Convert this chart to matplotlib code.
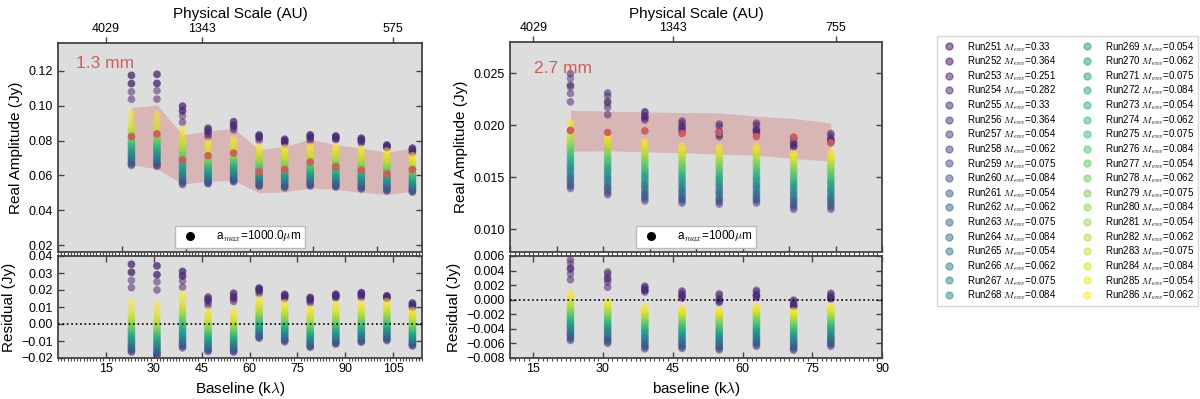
import numpy as np
import matplotlib.pyplot as plt
from matplotlib.lines import Line2D
from matplotlib.ticker import MultipleLocator

plt.rcParams['font.family'] = ['Liberation Sans', 'DejaVu Sans']
plt.rcParams['mathtext.fontset'] = 'cm'

# model runs shown in the legend
runs = list(range(251, 287))
m_env = [0.33, 0.364, 0.251, 0.282, 0.33, 0.364,
         0.054, 0.062, 0.075, 0.084, 0.054, 0.062, 0.075, 0.084,
         0.054, 0.062, 0.075, 0.084, 0.054, 0.062, 0.075, 0.084,
         0.054, 0.062, 0.075, 0.084, 0.054, 0.062, 0.075, 0.084,
         0.054, 0.062, 0.075, 0.084, 0.054, 0.062]

# ---- 1.3 mm (values in mJy) ----
base13 = [23, 31, 39, 47, 55, 63, 71, 79, 87, 95, 103, 111]
obs13 = [82.3, 83.8, 68.8, 71.3, 72.8, 62.1, 63.3, 67.6, 65.1, 62.9, 60.8, 63.3]
band13_hi = [98.9, 100.4, 83.3, 85.5, 87.0, 74.7, 76.6, 80.8, 77.5, 75.7, 73.2, 75.8]
band13_lo = [66.0, 63.7, 55.1, 56.6, 57.1, 50.0, 50.5, 52.8, 51.8, 50.3, 49.0, 50.9]
# runs 251-256, one row per baseline bin
env13 = [
    [112.8, 117.5, 103.7, 108.0, 112.6, 117.3],
    [112.7, 118.1, 103.8, 108.6, 112.9, 117.9],
    [97.1, 99.8, 90.5, 94.2, 97.0, 99.6],
    [85.5, 87.1, 82.3, 84.0, 85.3, 86.9],
    [88.8, 90.9, 86.1, 87.5, 88.6, 90.7],
    [82.3, 83.3, 80.0, 81.3, 82.1, 83.1],
    [79.8, 80.8, 78.1, 79.0, 79.6, 80.6],
    [82.3, 83.3, 80.0, 81.2, 82.1, 83.1],
    [81.8, 82.7, 80.4, 81.1, 81.6, 82.5],
    [80.4, 81.4, 78.5, 79.5, 80.2, 81.2],
    [76.8, 77.5, 75.7, 76.2, 76.6, 77.3],
    [74.6, 75.7, 72.8, 73.7, 74.4, 75.5],
]
# runs 257-286, one row per baseline bin
disk13 = [
    [65.7, 66.3, 66.9, 67.6, 68.2, 68.9, 69.7, 70.4, 71.0, 71.8, 72.6, 73.3, 74.0, 74.8, 75.6,
     76.4, 77.1, 78.0, 78.9, 79.8, 80.6, 81.6, 82.6, 83.6, 84.6, 85.8, 87.2, 89.0, 92.0, 95.7],
    [65.1, 65.8, 66.4, 67.0, 67.7, 68.4, 69.1, 69.8, 70.5, 71.2, 72.0, 72.7, 73.5, 74.2, 75.0,
     75.8, 76.6, 77.4, 78.3, 79.2, 80.1, 81.0, 82.0, 83.0, 84.2, 85.4, 87.0, 89.0, 92.0, 95.1],
    [54.7, 55.4, 56.1, 56.8, 57.5, 58.2, 59.0, 59.8, 60.6, 61.4, 62.2, 63.0, 63.9, 64.8, 65.7,
     66.6, 67.5, 68.4, 69.4, 70.4, 71.4, 72.5, 73.6, 74.8, 76.0, 77.4, 79.0, 81.0, 83.5, 86.5],
    [55.1, 55.6, 56.1, 56.7, 57.2, 57.8, 58.4, 59.0, 59.6, 60.2, 60.8, 61.4, 62.1, 62.7, 63.4,
     64.1, 64.8, 65.5, 66.2, 67.0, 67.8, 68.6, 69.5, 70.4, 71.3, 72.4, 73.6, 75.0, 76.8, 78.9],
    [56.2, 56.7, 57.3, 57.8, 58.4, 59.0, 59.6, 60.2, 60.8, 61.4, 62.0, 62.7, 63.3, 64.0, 64.7,
     65.4, 66.1, 66.8, 67.6, 68.4, 69.2, 70.0, 70.9, 71.8, 72.8, 73.9, 75.1, 76.5, 78.3, 80.4],
    [53.7, 54.2, 54.7, 55.2, 55.8, 56.3, 56.9, 57.5, 58.1, 58.7, 59.3, 59.9, 60.5, 61.2, 61.8,
     62.5, 63.2, 63.9, 64.6, 65.4, 66.2, 67.0, 67.9, 68.8, 69.7, 70.7, 71.8, 73.1, 74.7, 76.6],
    [52.8, 53.3, 53.8, 54.3, 54.9, 55.4, 56.0, 56.6, 57.2, 57.8, 58.4, 59.0, 59.6, 60.3, 60.9,
     61.6, 62.3, 63.0, 63.7, 64.5, 65.3, 66.1, 67.0, 67.9, 68.8, 69.8, 70.9, 72.2, 73.8, 75.7],
    [53.8, 54.3, 54.8, 55.3, 55.9, 56.4, 57.0, 57.6, 58.2, 58.8, 59.4, 60.0, 60.6, 61.3, 61.9,
     62.6, 63.3, 64.0, 64.7, 65.5, 66.3, 67.1, 68.0, 68.9, 69.8, 70.8, 71.9, 73.2, 74.8, 76.6],
    [53.2, 53.7, 54.2, 54.8, 55.3, 55.9, 56.5, 57.1, 57.7, 58.3, 58.9, 59.5, 60.2, 60.8, 61.5,
     62.2, 62.9, 63.6, 64.3, 65.1, 65.9, 66.8, 67.7, 68.6, 69.6, 70.6, 71.8, 73.1, 74.7, 76.6],
    [52.1, 52.6, 53.1, 53.7, 54.2, 54.8, 55.4, 56.0, 56.6, 57.2, 57.8, 58.4, 59.0, 59.7, 60.3,
     61.0, 61.7, 62.4, 63.1, 63.9, 64.7, 65.5, 66.4, 67.3, 68.2, 69.2, 70.4, 71.7, 73.3, 75.2],
    [51.0, 51.5, 52.0, 52.6, 53.1, 53.7, 54.3, 54.9, 55.5, 56.1, 56.7, 57.3, 57.9, 58.6, 59.2,
     59.9, 60.6, 61.3, 62.0, 62.8, 63.6, 64.4, 65.3, 66.2, 67.1, 68.1, 69.3, 70.6, 72.2, 74.0],
    [50.3, 50.8, 51.2, 51.7, 52.2, 52.7, 53.3, 53.8, 54.4, 54.9, 55.5, 56.0, 56.6, 57.2, 57.8,
     58.4, 59.1, 59.7, 60.4, 61.1, 61.8, 62.6, 63.4, 64.2, 65.0, 65.9, 67.0, 68.2, 69.6, 71.3],
]

# ---- 2.7 mm (values in mJy) ----
base27 = [23, 31, 39, 47, 55, 63, 71, 79]
obs27 = [19.5, 19.3, 19.45, 19.2, 19.3, 18.9, 18.85, 18.3]
band27_hi = [21.44, 21.35, 21.28, 21.22, 21.19, 20.87, 20.64, 20.22]
band27_lo = [17.5, 17.53, 17.44, 17.34, 17.21, 17.12, 16.79, 16.54]
env27 = [
    [23.85, 24.97, 22.24, 23.05, 23.68, 24.49],
    [22.3, 23.1, 21.0, 21.7, 22.1, 22.8],
    [20.9, 21.3, 20.5, 20.7, 20.8, 21.2],
    [19.9, 20.4, 19.4, 19.6, 19.8, 20.2],
    [19.4, 20.1, 18.9, 19.1, 19.3, 19.9],
    [19.6, 20.2, 19.2, 19.4, 19.5, 20.0],
    [18.3, 18.8, 17.9, 18.0, 18.2, 18.7],
    [18.7, 19.2, 18.4, 18.5, 18.6, 19.0],
]
disk27 = [
    [13.9, 14.1, 14.3, 14.5, 14.7, 14.9, 15.0, 15.2, 15.4, 15.6, 15.8, 15.9, 16.1, 16.3, 16.5,
     16.7, 16.9, 17.1, 17.3, 17.5, 17.7, 17.9, 18.1, 18.3, 18.6, 18.9, 19.2, 19.5, 19.9, 20.3],
    [13.3, 13.5, 13.7, 13.9, 14.0, 14.2, 14.4, 14.6, 14.8, 14.9, 15.1, 15.3, 15.5, 15.7, 15.8,
     16.0, 16.2, 16.4, 16.6, 16.8, 17.0, 17.2, 17.4, 17.6, 17.8, 18.0, 18.2, 18.5, 18.7, 19.0],
    [12.7, 12.9, 13.1, 13.3, 13.4, 13.6, 13.8, 14.0, 14.2, 14.3, 14.5, 14.7, 14.9, 15.1, 15.2,
     15.4, 15.6, 15.8, 16.0, 16.2, 16.4, 16.6, 16.8, 17.0, 17.2, 17.4, 17.6, 17.9, 18.1, 18.4],
    [12.5, 12.7, 12.9, 13.0, 13.2, 13.4, 13.6, 13.7, 13.9, 14.1, 14.3, 14.4, 14.6, 14.8, 15.0,
     15.1, 15.3, 15.5, 15.7, 15.9, 16.1, 16.3, 16.5, 16.7, 16.9, 17.1, 17.3, 17.5, 17.7, 18.0],
    [12.4, 12.6, 12.8, 12.9, 13.1, 13.3, 13.5, 13.6, 13.8, 14.0, 14.2, 14.3, 14.5, 14.7, 14.9,
     15.0, 15.2, 15.4, 15.6, 15.8, 16.0, 16.2, 16.4, 16.6, 16.8, 17.0, 17.2, 17.4, 17.6, 17.9],
    [12.5, 12.7, 12.9, 13.0, 13.2, 13.4, 13.5, 13.7, 13.9, 14.1, 14.2, 14.4, 14.6, 14.8, 14.9,
     15.1, 15.3, 15.5, 15.7, 15.9, 16.1, 16.3, 16.5, 16.7, 16.9, 17.1, 17.3, 17.5, 17.7, 17.9],
    [11.9, 12.1, 12.3, 12.4, 12.6, 12.8, 12.9, 13.1, 13.3, 13.5, 13.6, 13.8, 14.0, 14.2, 14.3,
     14.5, 14.7, 14.9, 15.1, 15.3, 15.5, 15.7, 15.9, 16.1, 16.3, 16.5, 16.7, 16.9, 17.1, 17.3],
    [11.9, 12.1, 12.3, 12.5, 12.6, 12.8, 13.0, 13.1, 13.3, 13.5, 13.7, 13.8, 14.0, 14.2, 14.4,
     14.5, 14.7, 14.9, 15.1, 15.3, 15.5, 15.7, 15.9, 16.1, 16.3, 16.5, 16.7, 16.9, 17.1, 17.4],
]

# top axis: physical scale labels
au_ticks13 = [15, 45, 105]
au_labels13 = ['4029', '1343', '575']
au_ticks27 = [15, 45, 80]
au_labels27 = ['4029', '1343', '755']

colors = plt.cm.viridis(np.linspace(0, 1, len(runs)))
bg = '#dddddd'
red = 'indianred'
spine_col = '#444444'


def style(ax, minor_x=True):
    ax.set_facecolor(bg)
    for s in ax.spines.values():
        s.set_color(spine_col)
        s.set_linewidth(1.3)
    ax.tick_params(which='major', direction='in', length=4, width=1, color=spine_col,
                   labelsize=9, right=True)
    if minor_x:
        ax.xaxis.set_minor_locator(MultipleLocator(1))
        ax.tick_params(axis='x', which='minor', direction='out', length=2.5, width=0.8,
                       color=spine_col, top=True)


def panel(rect_top, rect_res, base, obs, hi, lo, env, disk, xlim, ylim, rylim,
          yticks, ryticks, au_ticks, au_labels, band_lbl, amax_lbl, xlab, lbl_pos):
    base = np.array(base)
    obs = np.array(obs) / 1000
    model = np.hstack([np.array(env), np.array(disk)]) / 1000

    ax = fig.add_axes(rect_top)
    style(ax)
    ax.fill_between(base, np.array(lo) / 1000, np.array(hi) / 1000, color=red, alpha=0.3,
                    lw=0, zorder=1)
    for j in range(model.shape[1]):
        ax.scatter(base, model[:, j], s=30, color=colors[j], alpha=0.5, edgecolors='none', zorder=2)
    ax.scatter(base, obs, s=30, color=red, alpha=0.95, edgecolors='none', zorder=3)
    ax.set_xlim(*xlim)
    ax.set_ylim(*ylim)
    ax.set_yticks(yticks)
    ax.tick_params(axis='x', labelbottom=False)
    ax.set_ylabel('Real Amplitude (Jy)', fontsize=11)
    ax.text(lbl_pos[0], lbl_pos[1], band_lbl, transform=ax.transAxes, color=red,
            fontsize=12.5, va='center')
    h = Line2D([], [], marker='o', ls='', color='k', markersize=5.5)
    ax.legend([h], [amax_lbl], loc='lower center', bbox_to_anchor=(0.5, 0.02), fontsize=8.5,
              frameon=True, fancybox=False, framealpha=1, edgecolor='#bbbbbb',
              handletextpad=1.2, borderpad=0.3, borderaxespad=0)

    top = ax.twiny()
    top.set_xlim(*xlim)
    top.set_xticks(au_ticks)
    top.set_xticklabels(au_labels)
    top.tick_params(direction='out', length=4, width=1, color=spine_col, labelsize=9, pad=2)
    top.set_xlabel('Physical Scale (AU)', fontsize=11, labelpad=3)
    for s in top.spines.values():
        s.set_visible(False)

    rax = fig.add_axes(rect_res)
    style(rax)
    rax.tick_params(axis='x', which='major', top=True)
    for j in range(model.shape[1]):
        rax.scatter(base, model[:, j] - obs, s=30, color=colors[j], alpha=0.5,
                    edgecolors='none', zorder=2)
    rax.axhline(0, color='k', ls=':', lw=1.2, zorder=3)
    rax.set_xlim(*xlim)
    rax.set_ylim(*rylim)
    rax.set_yticks(ryticks)
    rax.set_xticks(np.arange(15, xlim[1] + 0.1, 15))
    rax.set_xlabel(xlab, fontsize=11)
    rax.set_ylabel('Residual (Jy)', fontsize=11)
    return ax, rax


fig = plt.figure(figsize=(12, 3.99), dpi=100)
W, H = 1200, 399

panel([58 / W, (H - 252) / H, 364 / W, 209 / H], [58 / W, (H - 358) / H, 364 / W, 102 / H],
      base13, obs13, band13_hi, band13_lo, env13, disk13,
      (0, 114), (0.016, 0.136), (-0.02, 0.04),
      [0.02, 0.04, 0.06, 0.08, 0.10, 0.12], [-0.02, -0.01, 0.0, 0.01, 0.02, 0.03, 0.04],
      au_ticks13, au_labels13, '1.3 mm', 'a$_{max}$=1000.0$\\mu$m', 'Baseline (k$\\lambda$)',
      (0.05, 0.9))

panel([510 / W, (H - 252) / H, 372 / W, 210 / H], [510 / W, (H - 358) / H, 372 / W, 102 / H],
      base27, obs27, band27_hi, band27_lo, env27, disk27,
      (10, 90), (0.0078, 0.028), (-0.008, 0.006),
      [0.010, 0.015, 0.020, 0.025],
      [-0.008, -0.006, -0.004, -0.002, 0.0, 0.002, 0.004, 0.006],
      au_ticks27, au_labels27, '2.7 mm', 'a$_{max}$=1000$\\mu$m', 'baseline (k$\\lambda$)',
      (0.065, 0.875))

handles = [Line2D([], [], marker='o', ls='', color=colors[j], alpha=0.5, markersize=5)
           for j in range(len(runs))]
labels = [f'Run{r} $M_{{env}}$={m}' for r, m in zip(runs, m_env)]
fig.legend(handles, labels, loc='upper left', bbox_to_anchor=(937 / W, 1 - 36 / H), ncol=2,
           fontsize=7, frameon=True, fancybox=False, edgecolor='#cccccc', borderaxespad=0,
           labelspacing=0.1, columnspacing=2.4, handlelength=1.6, handletextpad=1.05,
           borderpad=0.4)

fig.savefig('out.png', dpi=100)
